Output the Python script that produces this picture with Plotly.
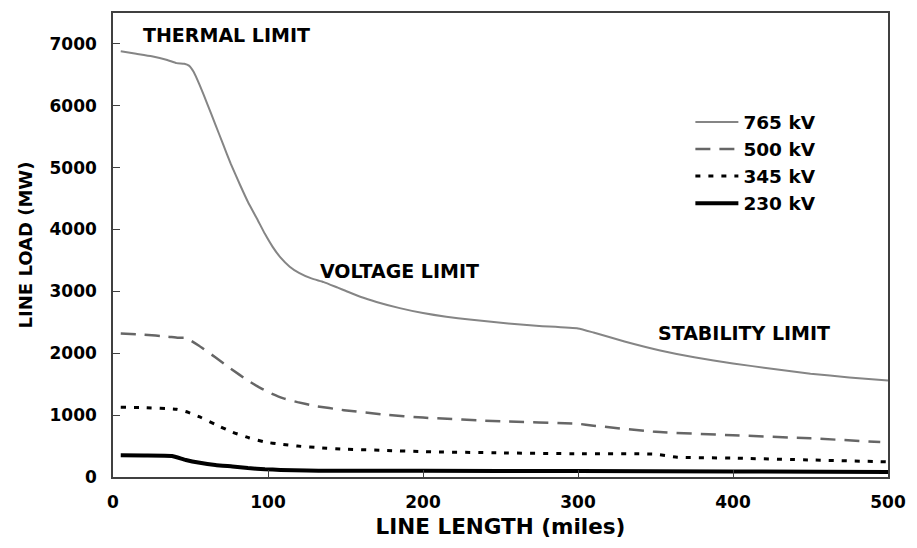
import plotly.graph_objects as go

# ---- data ----
x_765 = [5, 15, 25, 35, 41, 46, 49, 52, 56, 61, 66, 71, 76, 82, 87, 93, 98, 103, 108, 114,
         120, 128, 136, 145, 150, 160, 170, 185, 200, 215, 230, 255, 275, 300, 310, 330,
         353, 375, 400, 425, 450, 475, 500]
y_765 = [6880, 6840, 6800, 6740, 6690, 6680, 6650, 6550, 6330, 6020, 5700, 5380, 5060, 4720,
         4450, 4170, 3930, 3720, 3550, 3400, 3300, 3210, 3150, 3060, 3010, 2910, 2830, 2730,
         2650, 2590, 2545, 2480, 2440, 2400, 2335, 2190, 2045, 1935, 1835, 1750, 1670, 1610, 1560]

x_500 = [5, 20, 35, 42, 47, 55, 66, 76, 87, 95, 102, 110, 119, 130, 149, 175, 200, 250, 300,
         310, 350, 400, 450, 495]
y_500 = [2320, 2300, 2270, 2250, 2250, 2130, 1935, 1750, 1560, 1440, 1350, 1270, 1210, 1150,
         1080, 1010, 960, 900, 860, 830, 730, 675, 625, 565]

x_345 = [5, 20, 41, 48, 56, 66, 77, 88, 98, 108, 119, 135, 149, 175, 200, 250, 300, 349, 364,
         400, 450, 500]
y_345 = [1127, 1120, 1095, 1050, 970, 850, 725, 630, 565, 530, 500, 470, 450, 430, 410, 390,
         375, 370, 320, 305, 275, 245]

x_230 = [5, 20, 38, 47, 56, 66, 77, 87, 98, 108, 125, 140, 200, 300, 400, 500]
y_230 = [350, 348, 340, 275, 230, 195, 170, 145, 125, 115, 105, 100, 100, 95, 90, 80]

x_ticks = [0, 100, 200, 300, 400, 500]
y_ticks = [0, 1000, 2000, 3000, 4000, 5000, 6000, 7000]

notes = ["THERMAL LIMIT", "VOLTAGE LIMIT", "STABILITY LIMIT"]
note_x = [73, 185, 407]
note_y = [7140, 3330, 2334]

FONT = "DejaVu Sans, sans-serif"


def f(size):
    return dict(family=FONT, size=size, color="black", weight="bold")


fig = go.Figure()
fig.add_trace(go.Scatter(x=x_765, y=y_765, mode="lines", name="765 kV",
                         line=dict(color="#858585", width=2, shape="spline", smoothing=0.4)))
fig.add_trace(go.Scatter(x=x_500, y=y_500, mode="lines", name="500 kV",
                         line=dict(color="#666666", width=2.5, dash="15px,9px",
                                   shape="spline", smoothing=0.4)))
fig.add_trace(go.Scatter(x=x_345, y=y_345, mode="lines", name="345 kV",
                         line=dict(color="#000000", width=3, dash="5px,8px",
                                   shape="spline", smoothing=0.4)))
fig.add_trace(go.Scatter(x=x_230, y=y_230, mode="lines", name="230 kV",
                         line=dict(color="#000000", width=4, shape="spline", smoothing=0.4)))

for t, ax_, ay_ in zip(notes, note_x, note_y):
    fig.add_annotation(x=ax_, y=ay_, text=t, showarrow=False, xref="x", yref="y",
                       font=f(19))

axis_common = dict(showgrid=False, zeroline=False, showline=True, mirror=True,
                   linecolor="#404040", linewidth=1.5, ticks="inside", ticklen=7,
                   tickcolor="#404040", tickwidth=1, tickfont=f(17))

fig.update_layout(
    width=917, height=548,
    margin=dict(l=113, r=20, t=11, b=71),
    paper_bgcolor="white", plot_bgcolor="white",
    xaxis=dict(range=[0, 500], tickvals=x_ticks, ticklabelstandoff=9,
               title=dict(text="LINE LENGTH (miles)", standoff=8, font=f(21.5)),
               **axis_common),
    yaxis=dict(range=[0, 7500], tickvals=y_ticks, ticklabelstandoff=11,
               title=dict(text="LINE LOAD (MW)", standoff=12, font=f(18)),
               **axis_common),
    legend=dict(x=0.745, y=0.805, xanchor="left", yanchor="top",
                bgcolor="rgba(0,0,0,0)", tracegroupgap=0, itemwidth=43,
                font=f(18.5)),
    showlegend=True,
)

fig.write_html("out.html")
